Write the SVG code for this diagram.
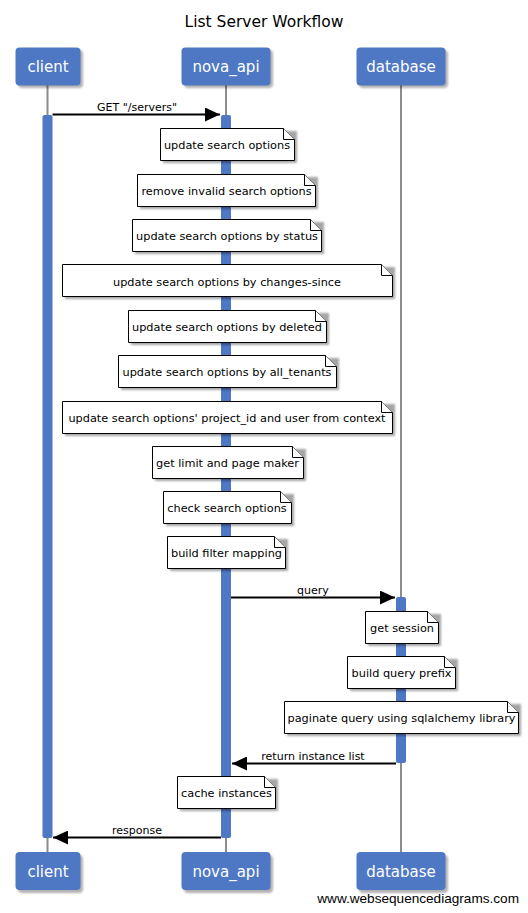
<svg xmlns="http://www.w3.org/2000/svg" width="528" height="913" viewBox="0 0 528 913">
<style>
  .title { font-family: "DejaVu Sans", sans-serif; font-size: 15.5px; fill: #000; text-anchor: middle; }
  .actor { fill: #4f78c4; }
  .actor-shadow { fill: #000; opacity: 0.3; filter: url(#blur); }
  .actor-text { font-family: "DejaVu Sans", sans-serif; font-size: 15px; fill: #fff; text-anchor: middle; }
  .life { stroke: #8c8c8c; stroke-width: 2; fill: none; }
  .act { fill: #4f78c4; }
  .note { fill: #fff; stroke: #000; stroke-width: 1; }
  .note-shadow { fill: #000; opacity: 0.35; filter: url(#blur); }
  .ear { fill: #fff; stroke: #000; stroke-width: 1; }
  .note-text { font-family: "DejaVu Sans", sans-serif; font-size: 11.3px; fill: #000; text-anchor: middle; }
  .msg { stroke: #000; stroke-width: 2; fill: none; }
  .msg-text { font-family: "DejaVu Sans", sans-serif; font-size: 11px; fill: #000; text-anchor: middle; }
  .footer { font-family: "Liberation Sans", Arial, sans-serif; font-size: 13.6px; fill: #000; text-anchor: end; }
</style>
<defs>
  <filter id="blur" x="-10%" y="-20%" width="120%" height="140%"><feGaussianBlur stdDeviation="1.2"/></filter>
  <marker id="arrow" markerWidth="16" markerHeight="14" refX="15" refY="7" orient="auto" markerUnits="userSpaceOnUse">
    <path d="M0,0 L15,7 L0,14 Z" fill="#000"/>
  </marker>
</defs>
<rect width="528" height="913" fill="#fff"/>
<text class="title" x="264" y="27">List Server Workflow</text>

<g id="lifelines">
  <line class="life" x1="47.5" y1="85" x2="47.5" y2="852"/>
  <line class="life" x1="226" y1="85" x2="226" y2="852"/>
  <line class="life" x1="401" y1="85" x2="401" y2="852"/>
</g>

<g id="client">
  <rect class="actor-shadow" x="18" y="50" width="65" height="38" rx="4"/>
  <rect class="actor" x="15.5" y="47.5" width="65" height="38" rx="4"/>
  <text class="actor-text" x="48" y="72">client</text>
  <rect class="actor-shadow" x="18" y="855" width="65" height="38" rx="4"/>
  <rect class="actor" x="15.5" y="852" width="65" height="38" rx="4"/>
  <text class="actor-text" x="48" y="876.5">client</text>
</g>
<g id="nova_api">
  <rect class="actor-shadow" x="184" y="50" width="89" height="38" rx="4"/>
  <rect class="actor" x="181.5" y="47.5" width="89" height="38" rx="4"/>
  <text class="actor-text" x="226" y="72">nova_api</text>
  <rect class="actor-shadow" x="184" y="855" width="89" height="38" rx="4"/>
  <rect class="actor" x="181.5" y="852" width="89" height="38" rx="4"/>
  <text class="actor-text" x="226" y="876.5">nova_api</text>
</g>
<g id="database">
  <rect class="actor-shadow" x="359" y="50" width="89" height="38" rx="4"/>
  <rect class="actor" x="356.5" y="47.5" width="89" height="38" rx="4"/>
  <text class="actor-text" x="401" y="72">database</text>
  <rect class="actor-shadow" x="359" y="855" width="89" height="38" rx="4"/>
  <rect class="actor" x="356.5" y="852" width="89" height="38" rx="4"/>
  <text class="actor-text" x="401" y="876.5">database</text>
</g>

<g id="activations">
  <rect class="act" x="42.5" y="115" width="10" height="723" rx="2"/>
  <rect class="act" x="221" y="115" width="10" height="723" rx="2"/>
  <rect class="act" x="396" y="597" width="10" height="166" rx="2"/>
</g>

<g id="connectors">
  <line class="msg" x1="52.5" y1="114.5" x2="220" y2="114.5" marker-end="url(#arrow)"/>
  <text class="msg-text" x="137" y="111">GET "/servers"</text>
  <line class="msg" x1="231" y1="597.5" x2="395" y2="597.5" marker-end="url(#arrow)"/>
  <text class="msg-text" x="313" y="594">query</text>
  <line class="msg" x1="396" y1="763.5" x2="232" y2="763.5" marker-end="url(#arrow)"/>
  <text class="msg-text" x="313" y="760">return instance list</text>
  <line class="msg" x1="221" y1="837.5" x2="53" y2="837.5" marker-end="url(#arrow)"/>
  <text class="msg-text" x="137" y="834">response</text>
</g>

<g id="note1">
  <path class="note-shadow" d="M163,131 H297 V163 H163 Z"/>
  <path class="note" d="M160.5,128.5 H283.5 L294.5,139.5 V160.5 H160.5 Z"/>
  <path class="ear" d="M283.5,128.5 V139.5 H294.5"/>
  <text class="note-text" x="227" y="149">update search options</text>
</g>
<g id="note2">
  <path class="note-shadow" d="M140,177 H318 V209 H140 Z"/>
  <path class="note" d="M137.5,174.5 H304.5 L315.5,185.5 V206.5 H137.5 Z"/>
  <path class="ear" d="M304.5,174.5 V185.5 H315.5"/>
  <text class="note-text" x="226.5" y="195">remove invalid search options</text>
</g>
<g id="note3">
  <path class="note-shadow" d="M135,222 H324 V254 H135 Z"/>
  <path class="note" d="M132.5,219.5 H310.5 L321.5,230.5 V251.5 H132.5 Z"/>
  <path class="ear" d="M310.5,219.5 V230.5 H321.5"/>
  <text class="note-text" x="227" y="240">update search options by status</text>
</g>
<g id="note4">
  <path class="note-shadow" d="M65,267 H395 V299 H65 Z"/>
  <path class="note" d="M62.5,264.5 H381.5 L392.5,275.5 V296.5 H62.5 Z"/>
  <path class="ear" d="M381.5,264.5 V275.5 H392.5"/>
  <text class="note-text" x="227" y="285.5">update search options by changes-since</text>
</g>
<g id="note5">
  <path class="note-shadow" d="M131,313 H329 V345 H131 Z"/>
  <path class="note" d="M128.5,310.5 H315.5 L326.5,321.5 V342.5 H128.5 Z"/>
  <path class="ear" d="M315.5,310.5 V321.5 H326.5"/>
  <text class="note-text" x="227" y="331">update search options by deleted</text>
</g>
<g id="note6">
  <path class="note-shadow" d="M121,358 H339 V390 H121 Z"/>
  <path class="note" d="M118.5,355.5 H325.5 L336.5,366.5 V387.5 H118.5 Z"/>
  <path class="ear" d="M325.5,355.5 V366.5 H336.5"/>
  <text class="note-text" x="227" y="376">update search options by all_tenants</text>
</g>
<g id="note7">
  <path class="note-shadow" d="M65,404 H395 V436 H65 Z"/>
  <path class="note" d="M62.5,401.5 H381.5 L392.5,412.5 V433.5 H62.5 Z"/>
  <path class="ear" d="M381.5,401.5 V412.5 H392.5"/>
  <text class="note-text" x="227" y="422">update search options' project_id and user from context</text>
</g>
<g id="note8">
  <path class="note-shadow" d="M155,449 H306 V481 H155 Z"/>
  <path class="note" d="M152.5,446.5 H292.5 L303.5,457.5 V478.5 H152.5 Z"/>
  <path class="ear" d="M292.5,446.5 V457.5 H303.5"/>
  <text class="note-text" x="227.5" y="467">get limit and page maker</text>
</g>
<g id="note9">
  <path class="note-shadow" d="M166,494 H294 V526 H166 Z"/>
  <path class="note" d="M163.5,491.5 H280.5 L291.5,502.5 V523.5 H163.5 Z"/>
  <path class="ear" d="M280.5,491.5 V502.5 H291.5"/>
  <text class="note-text" x="227" y="512">check search options</text>
</g>
<g id="note10">
  <path class="note-shadow" d="M170,539 H288 V571 H170 Z"/>
  <path class="note" d="M167.5,536.5 H274.5 L285.5,547.5 V568.5 H167.5 Z"/>
  <path class="ear" d="M274.5,536.5 V547.5 H285.5"/>
  <text class="note-text" x="226.5" y="557">build filter mapping</text>
</g>
<g id="note11">
  <path class="note-shadow" d="M368,614 H441 V646 H368 Z"/>
  <path class="note" d="M365.5,611.5 H427.5 L438.5,622.5 V643.5 H365.5 Z"/>
  <path class="ear" d="M427.5,611.5 V622.5 H438.5"/>
  <text class="note-text" x="402" y="632">get session</text>
</g>
<g id="note12">
  <path class="note-shadow" d="M350,659 H458 V691 H350 Z"/>
  <path class="note" d="M347.5,656.5 H444.5 L455.5,667.5 V688.5 H347.5 Z"/>
  <path class="ear" d="M444.5,656.5 V667.5 H455.5"/>
  <text class="note-text" x="401.5" y="677">build query prefix</text>
</g>
<g id="note13">
  <path class="note-shadow" d="M287,704 H521 V736 H287 Z"/>
  <path class="note" d="M284.5,701.5 H507.5 L518.5,712.5 V733.5 H284.5 Z"/>
  <path class="ear" d="M507.5,701.5 V712.5 H518.5"/>
  <text class="note-text" x="401.5" y="722">paginate query using sqlalchemy library</text>
</g>
<g id="note14">
  <path class="note-shadow" d="M180,779 H278 V811 H180 Z"/>
  <path class="note" d="M177.5,776.5 H264.5 L275.5,787.5 V808.5 H177.5 Z"/>
  <path class="ear" d="M264.5,776.5 V787.5 H275.5"/>
  <text class="note-text" x="226.5" y="797">cache instances</text>
</g>

<text class="footer" x="519" y="903">www.websequencediagrams.com</text>
</svg>
